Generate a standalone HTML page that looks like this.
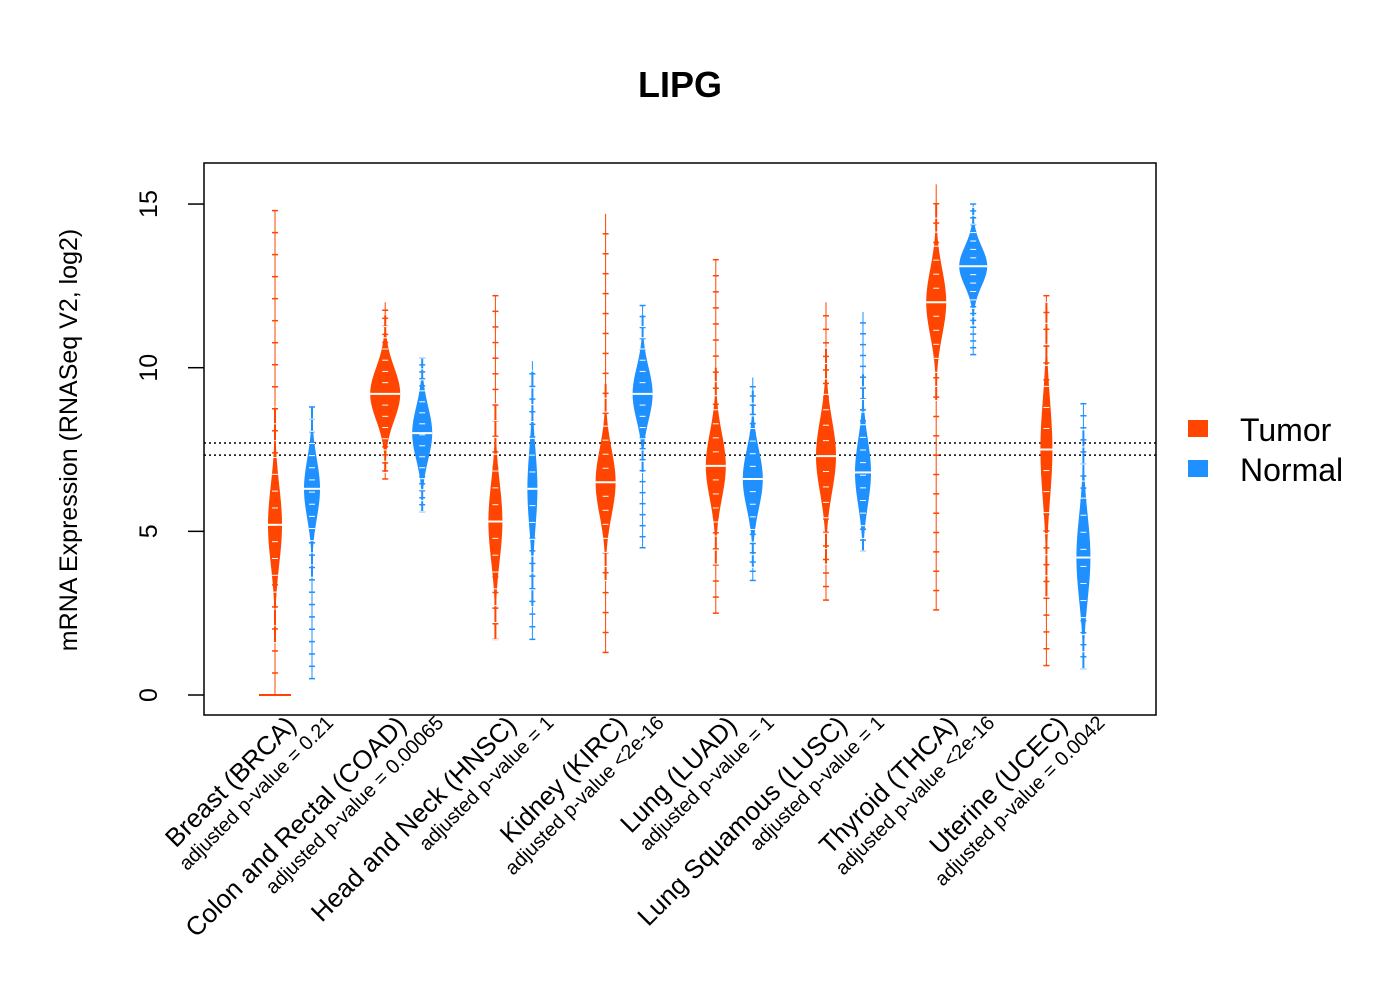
<!DOCTYPE html>
<html><head><meta charset="utf-8"><style>
body{margin:0;background:#fff}
svg text{font-family:"Liberation Sans",sans-serif}
</style></head><body>
<svg id="chart" width="1400" height="1000" xmlns="http://www.w3.org/2000/svg">
<rect width="1400" height="1000" fill="#fff"/>
<text x="680" y="97" font-size="36" font-weight="bold" text-anchor="middle">LIPG</text>
<g id="plot"></g>
<rect x="204" y="163" width="952" height="552" fill="none" stroke="#000" stroke-width="1.5"/>
<text transform="translate(77,440) rotate(-90)" font-size="25" text-anchor="middle">mRNA Expression (RNASeq V2, log2)</text>
<rect x="1188" y="420" width="20" height="17" fill="#FF4500"/>
<text x="1240" y="441" font-size="32">Tumor</text>
<rect x="1188" y="460" width="20" height="17" fill="#1E90FF"/>
<text x="1240" y="481" font-size="32">Normal</text>
</svg>
<script>
const categories=["Breast (BRCA)","Colon and Rectal (COAD)","Head and Neck (HNSC)","Kidney (KIRC)","Lung (LUAD)","Lung Squamous (LUSC)","Thyroid (THCA)","Uterine (UCEC)"];
const pvalues=["adjusted p-value = 0.21","adjusted p-value = 0.00065","adjusted p-value = 1","adjusted p-value <2e-16","adjusted p-value = 1","adjusted p-value = 1","adjusted p-value <2e-16","adjusted p-value = 0.0042"];
const tumorCenter=[5.2,9.2,5.3,6.5,7.0,7.3,12.0,7.5];
const tumorMin=[0,6.6,1.7,1.3,2.5,2.9,2.6,0.9];
const tumorMax=[14.8,12.0,12.2,14.7,13.3,12.0,15.6,12.2];
const tumorSpread=[1.2,0.8,1.2,1.0,1.0,1.1,1.0,1.5];
const tumorWidth=[7,15,7,10,10,10,10,6];
const normalCenter=[6.3,8.0,6.3,9.2,6.6,6.8,13.1,4.2];
const normalMin=[0.5,5.6,1.7,4.5,3.5,4.4,10.4,0.8];
const normalMax=[8.8,10.3,10.2,11.9,9.7,11.7,15.0,8.9];
const normalSpread=[0.9,0.8,1.2,0.8,0.9,1.0,0.6,1.3];
const normalWidth=[8,10,5,10,10,8,14,7];
const yTicks=[0,5,10,15];
const refLines=[7.70,7.33];

const NS="http://www.w3.org/2000/svg";
const plot=document.getElementById("plot");
const X0=204,X1=1156;
function yScale(v){return 695-v*32.73;}
function xScale(i){return 275+i*110.2;}
function mk(tag,attrs){const e=document.createElementNS(NS,tag);for(const k in attrs)e.setAttribute(k,attrs[k]);plot.appendChild(e);return e;}

yTicks.forEach(t=>{
  const l=mk("line",{x1:188,x2:204,y1:yScale(t),y2:yScale(t),stroke:"#000","stroke-width":1.5});
  
  
  const tx=mk("text",{transform:`translate(157,${yScale(t)}) rotate(-90)`,"font-size":25,"text-anchor":"middle"});
  tx.textContent=t;
  
  
});
refLines.forEach(r=>{
  const l=mk("line",{x1:X0,x2:X1,y1:yScale(r),y2:yScale(r),stroke:"#000","stroke-width":1.5,"stroke-dasharray":"2,3"});
  
  
});

function violin(cx,c,mn,mx,sd,w,color,name){
  const g=mk("g",{});
  
  
  const line=document.createElementNS(NS,"line");
  [["x1",cx],["x2",cx],["y1",yScale(mn)],["y2",yScale(mx)],["stroke",color],["stroke-width",1]].forEach(a=>line.setAttribute(a[0],a[1]));
  g.appendChild(line);
  const lo=Math.max(mn,c-3*sd),hi=Math.min(mx,c+3*sd);
  const L=[],R=[];
  for(let k=0;k<=60;k++){const v=lo+(hi-lo)*k/60;const hw=Math.max(1,w*Math.exp(-0.5*((v-c)/sd)**2));
    L.push(`${cx-hw},${yScale(v)}`);R.unshift(`${cx+hw},${yScale(v)}`);}
  const p=document.createElementNS(NS,"polygon");
  p.setAttribute("points",L.concat(R).join(" "));p.setAttribute("fill",color);
  g.appendChild(p);
  for(let v=mn;v<=mx;v+=(mx-mn)/22){const d=document.createElementNS(NS,"line");
    [["x1",cx-3],["x2",cx+3],["y1",yScale(v)],["y2",yScale(v)],["stroke",color],["stroke-width",1.5]].forEach(a=>d.setAttribute(a[0],a[1]));g.appendChild(d);}
  for(let v=lo;v<=hi;v+=(hi-lo)/14){const d=document.createElementNS(NS,"line");
    [["x1",cx-3],["x2",cx+3],["y1",yScale(v)],["y2",yScale(v)],["stroke","#fff"],["stroke-width",1]].forEach(a=>d.setAttribute(a[0],a[1]));g.appendChild(d);}
  const m=document.createElementNS(NS,"line");
  [["x1",cx-w],["x2",cx+w],["y1",yScale(c)],["y2",yScale(c)],["stroke","#fff"],["stroke-width",2]].forEach(a=>m.setAttribute(a[0],a[1]));
  g.appendChild(m);
}
categories.forEach((cat,i)=>{
  const tx=xScale(i),nx=tx+37;
  violin(tx,tumorCenter[i],tumorMin[i],tumorMax[i],tumorSpread[i],tumorWidth[i],"#FF4500","violin-tumor-"+i);
  violin(nx,normalCenter[i],normalMin[i],normalMax[i],normalSpread[i],normalWidth[i],"#1E90FF","violin-normal-"+i);
  if(i===0){const z=mk("line",{x1:tx-16,x2:tx+16,y1:yScale(0),y2:yScale(0),stroke:"#FF4500","stroke-width":2});
    
    }
  const cx=tx+18.5;
  const t1=mk("text",{transform:`translate(${cx+4},727) rotate(-45)`,"font-size":26,"text-anchor":"end"});
  t1.textContent=cat;
  
  
  const t2=mk("text",{transform:`translate(${cx+41},724) rotate(-45)`,"font-size":20,"text-anchor":"end"});
  t2.textContent=pvalues[i];
  
  
});
</script>
</body></html>
